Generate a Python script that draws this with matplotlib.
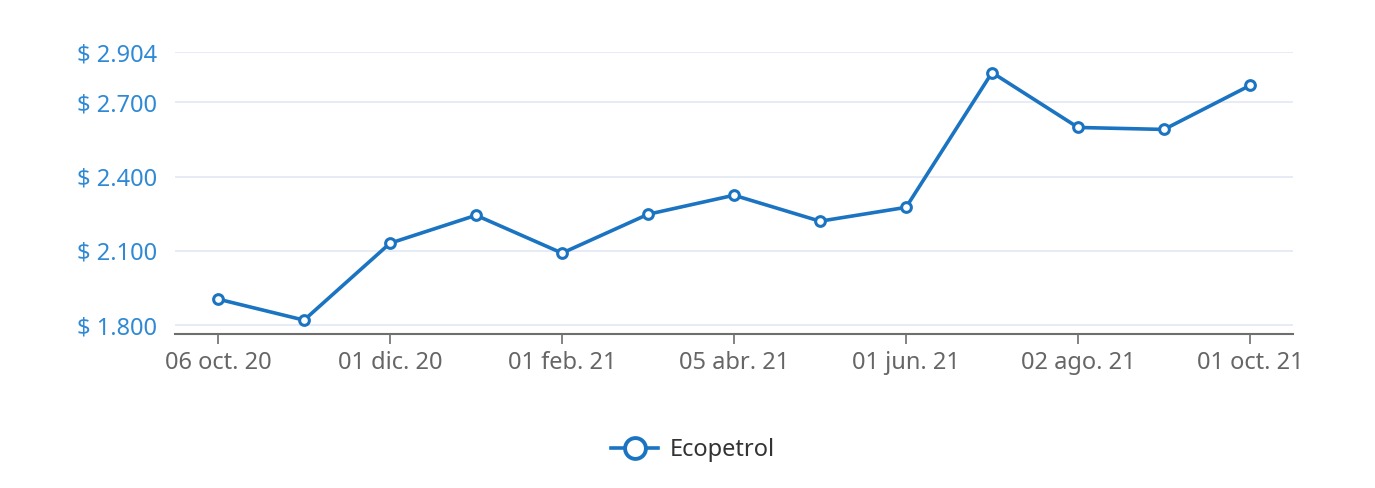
import matplotlib
matplotlib.use("Agg")
import matplotlib.pyplot as plt
from matplotlib.lines import Line2D

dates = ["06 oct. 20", "03 nov. 20", "01 dic. 20", "04 ene. 21", "01 feb. 21", "02 mar. 21",
         "05 abr. 21", "04 may. 21", "01 jun. 21", "01 jul. 21", "02 ago. 21", "01 sep. 21",
         "01 oct. 21"]
prices = [1905, 1820, 2131, 2244, 2091, 2248, 2325, 2220, 2276, 2821, 2599, 2591, 2769]
y_ticks = [1800, 2100, 2400, 2700, 2904]
series_name = "Ecopetrol"

line_color = "#1b74c1"
ylab_color = "#2f89d5"
xlab_color = "#666666"
grid_color = "#e3e7f3"

plt.rcParams['font.family'] = ['Noto Sans', 'DejaVu Sans']

fig = plt.figure(figsize=(13.75, 4.88), dpi=100)
ax = fig.add_axes([0.1273, 0.3156, 0.8131, 0.5778])

x = list(range(len(prices)))
ax.plot(x, prices, color=line_color, lw=2.6, marker='o', ms=7,
        mfc='white', mec=line_color, mew=2.2, zorder=3, clip_on=False)

ax.set_xlim(-0.5, len(prices) - 0.5)
ax.set_ylim(1764, 2904)

ax.set_yticks(y_ticks)
ax.set_yticklabels(["$ " + f"{v:,}".replace(",", ".") for v in y_ticks])
ax.set_xticks(x[::2])
ax.set_xticklabels(dates[::2])

ax.grid(axis='y', color=grid_color, lw=1.2)
ax.set_axisbelow(True)
for s in ['top', 'right', 'left']:
    ax.spines[s].set_visible(False)
ax.spines['bottom'].set_color('#6e6e6e')
ax.spines['bottom'].set_linewidth(1.5)

ax.tick_params(axis='y', length=0, pad=13, labelsize=17, labelcolor=ylab_color)
ax.tick_params(axis='x', length=7, width=1.2, color='#6e6e6e', pad=5,
               labelsize=17, labelcolor=xlab_color, direction='out')

handle = Line2D([0], [0], color=line_color, lw=2.6, marker='o', ms=15,
                mfc='white', mec=line_color, mew=2.8)
fig.legend([handle], [series_name], loc='center', bbox_to_anchor=(0.504, 0.078),
           frameon=False, fontsize=17, labelcolor='#333333', handlelength=2.0,
           handletextpad=0.5)

fig.savefig("out.png", dpi=100, facecolor='white')
